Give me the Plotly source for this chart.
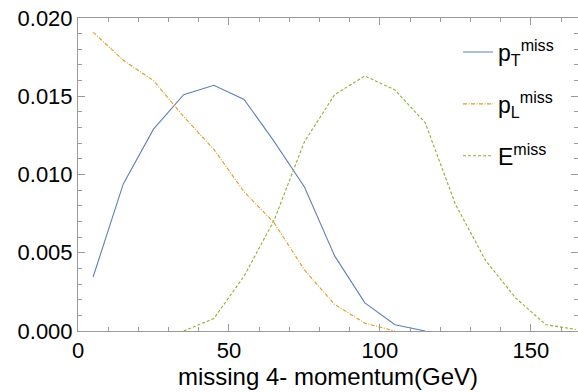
import plotly.graph_objects as go

x_pt = [5, 15, 25, 35, 45, 55, 65, 75, 85, 95, 105, 115]
pt = [0.00345, 0.0094, 0.0129, 0.0151, 0.0157, 0.0148, 0.0121, 0.0092, 0.0048, 0.0018, 0.0004, 0.0]

x_pl = [5, 15, 25, 35, 45, 55, 65, 75, 85, 95, 105]
pl = [0.0191, 0.0173, 0.0160, 0.0137, 0.0116, 0.0089, 0.0069, 0.0039, 0.0017, 0.0005, 0.0]

x_e = [35, 45, 55, 65, 75, 85, 95, 105, 115, 125, 135, 145, 155, 165]
e = [0.0, 0.0008, 0.0035, 0.0071, 0.0121, 0.0151, 0.0163, 0.0154, 0.0133, 0.0081, 0.0045, 0.0021, 0.0004, 0.0001]

names = ["p<sub>T</sub><sup>miss</sup>", "p<sub>L</sub><sup>miss</sup>", "E<sup>miss</sup>"]
colors = ["#5E81B5", "#E19C24", "#8FB032"]
dashes = ["solid", "4px,1.5px,1px,1.5px", "3px,2px"]

fig = go.Figure()
for i, (xs, ys) in enumerate([(x_pt, pt), (x_pl, pl), (x_e, e)]):
    fig.add_trace(go.Scatter(x=xs, y=ys, mode="lines", name=names[i],
                             legendgroup=str(i),
                             line=dict(color=colors[i], width=1.1, dash=dashes[i])))

font = "Liberation Sans, Arial, sans-serif"
axis_common = dict(showline=True, linecolor="#9a9a9a", linewidth=1, mirror="ticks",
                   ticks="inside", ticklen=7, tickcolor="#9a9a9a", tickwidth=1,
                   showgrid=False, zeroline=False,
                   tickfont=dict(family=font, size=22, color="black"))

fig.update_layout(
    width=578, height=392,
    margin=dict(l=78, r=0, t=18, b=61),
    paper_bgcolor="white", plot_bgcolor="white",
    font=dict(family=font, color="black"),
    xaxis=dict(range=[0, 165.6], tickvals=[0, 50, 100, 150],
               minor=dict(tickvals=[v for v in range(10, 170, 10) if v % 50 != 0],
                          ticks="inside", ticklen=4, tickcolor="#9a9a9a"),
               title=dict(text="missing 4- momentum(GeV)", font=dict(family=font, size=24), standoff=4),
               **axis_common),
    yaxis=dict(range=[0, 0.02], tickvals=[0, 0.005, 0.01, 0.015, 0.02], tickformat=".3f",
               minor=dict(dtick=0.001, ticks="inside", ticklen=4, tickcolor="#9a9a9a"),
               **axis_common),
    legend=dict(x=0.76, y=0.96, xanchor="left", yanchor="top", bgcolor="rgba(0,0,0,0)",
                font=dict(family=font, size=23), tracegroupgap=19, itemwidth=30),
    showlegend=True,
)

fig.write_html("out.html")
